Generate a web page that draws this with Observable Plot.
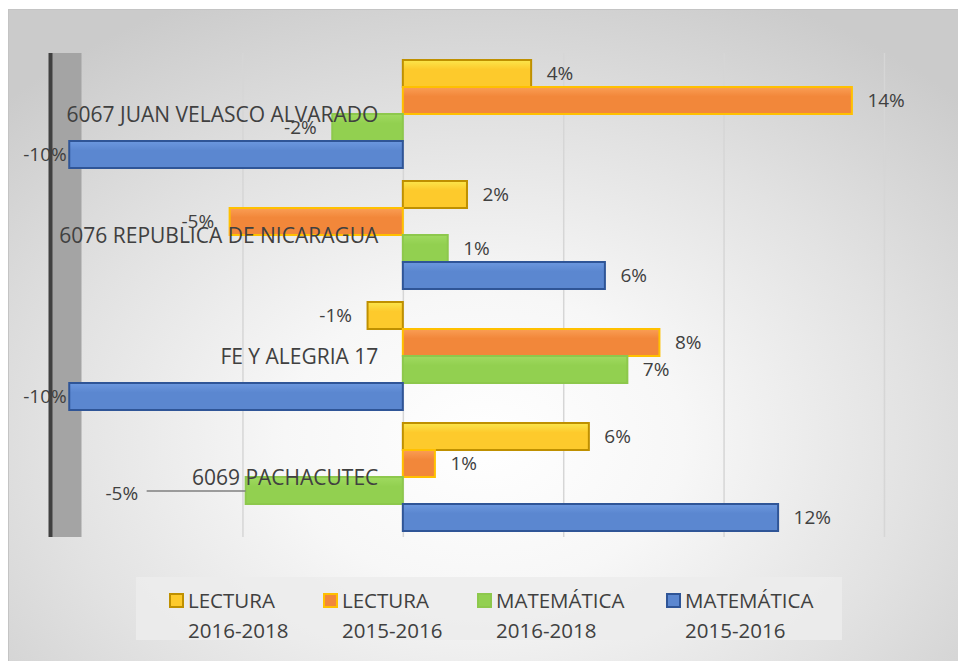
<!DOCTYPE html>
<html>
<head>
<meta charset="utf-8">
<script src="https://cdn.jsdelivr.net/npm/d3@7"></script>
<script src="https://cdn.jsdelivr.net/npm/@observablehq/plot@0.6"></script>
<style>
  body { margin: 0; background: #ffffff; font-family: "Open Sans", sans-serif; }
  #wrap { position: relative; width: 958px; height: 661px; overflow: hidden; }
  #panel { position: absolute; left: 8px; top: 9px; width: 950px; height: 652px;
    background: radial-gradient(ellipse 70% 75% at 50% 66%, #ffffff 0%, #f7f7f7 30%, #e2e2e2 65%, #cbcbcb 100%);
    border-top: 1px solid #c4c4c4; border-left: 1px solid #c4c4c4; }
  #chart { position: absolute; left: 0; top: 0; }
  #legend { position: absolute; left: 136px; top: 577px; width: 706px; height: 63px; background: rgba(236,236,236,0.85); }
  .item { position: absolute; top: 8px; font-size: 20.5px; color: #404040; line-height: 30px; white-space: nowrap; }
  .sw { position: absolute; width: 11px; height: 11px; border: 2px solid; left: -19px; top: 8px; }
</style>
</head>
<body>
<div id="wrap">
  <div id="panel"></div>
  <div id="chart"></div>
  <div id="legend"></div>
</div>
<script>
// ---- data ----
const schools = ["6067 JUAN VELASCO ALVARADO", "6076 REPUBLICA DE NICARAGUA", "FE Y ALEGRIA 17", "6069 PACHACUTEC"];
const series = ["LECTURA 2016-2018", "LECTURA 2015-2016", "MATEMÁTICA 2016-2018", "MATEMÁTICA 2015-2016"];
const legendLine1 = ["LECTURA", "LECTURA", "MATEMÁTICA", "MATEMÁTICA"];
const legendLine2 = ["2016-2018", "2015-2016", "2016-2018", "2015-2016"];
const lectura1618 = [4.0, 2.0, -1.1, 5.8];
const lectura1516 = [14.0, -5.4, 8.0, 1.0];
const mate1618 = [-2.2, 1.4, 7.0, -4.9];
const mate1516 = [-10.4, 6.3, -10.4, 11.7];
const gridTicks = [-5, 0, 5, 10, 15];
const fills = ["#FDCA2C", "#F2873A", "#92D050", "#5B87D0"];
const lights = ["#FBE64C", "#FA9E55", "#A0DA60", "#6C98DF"];
const strokes = ["#BF9000", "#FFC000", "#8DC84C", "#2F5597"];
const movedLabel = {school: "6069 PACHACUTEC", series: "MATEMÁTICA 2016-2018"};

const valuesBySeries = [lectura1618, lectura1516, mate1618, mate1516];
const rows = [];
schools.forEach((s, i) => series.forEach((k, j) => rows.push({school: s, series: k, value: valuesBySeries[j][i]})));
const fmt = d => Math.round(d.value) + "%";
const isMoved = d => d.school === movedLabel.school && d.series === movedLabel.series;

const chart = Plot.plot({
  width: 958,
  height: 570,
  marginLeft: 50,
  marginRight: 58,
  marginTop: 53,
  marginBottom: 33,
  x: {domain: [-11, 15.5], axis: null},
  y: {domain: series, axis: null, paddingInner: 0, paddingOuter: 0.24},
  fy: {domain: schools, axis: null, padding: 0},
  style: {background: "transparent", fontFamily: "Open Sans", overflow: "visible"},
  marks: [
    Plot.ruleX(gridTicks, {stroke: "#d6d6d6", strokeWidth: 1.5}),
    Plot.ruleX([-11], {stroke: "#a4a4a4", strokeWidth: 30, dx: 16}),
    Plot.ruleX([-11], {stroke: "#404040", strokeWidth: 4}),
    ...series.map((k, j) => Plot.barX(rows.filter(d => d.series === k), {
      x: "value", y: "series", fy: "school",
      fill: `url(#grad${j})`, stroke: strokes[j], strokeWidth: 2
    })),
    Plot.text(schools, {fy: d => d, x: 0, text: d => d, textAnchor: "end", dx: -25, dy: 1,
      fontSize: 21, fill: "#404040"}),
    Plot.text(rows.filter(d => d.value >= 0), {x: "value", y: "series", fy: "school", text: fmt,
      textAnchor: "start", dx: 15, fontSize: 19, fill: "#404040"}),
    Plot.text(rows.filter(d => d.value < 0 && d.value > -9 && !isMoved(d)), {x: "value", y: "series", fy: "school", text: fmt,
      textAnchor: "end", dx: -16, fontSize: 19, fill: "#404040"}),
    Plot.text(rows.filter(d => d.value <= -9), {x: "value", y: "series", fy: "school", text: fmt,
      textAnchor: "end", dx: -3, fontSize: 19, fill: "#404040"}),
    Plot.ruleY(rows.filter(isMoved), {x1: "value", x2: "value", y: "series", fy: "school",
      insetLeft: -99, stroke: "#7f7f7f", strokeWidth: 1.5}),
    Plot.text(rows.filter(isMoved), {x: "value", y: "series", fy: "school", text: fmt,
      textAnchor: "end", dx: -108, dy: 3, fontSize: 19, fill: "#404040"})
  ]
});

// bar shading gradients (lighter top edge like the 3D bars)
const defs = d3.select(chart).insert("defs", ":first-child");
fills.forEach((c, j) => {
  const g = defs.append("linearGradient").attr("id", `grad${j}`).attr("x1", 0).attr("y1", 0).attr("x2", 0).attr("y2", 1);
  g.append("stop").attr("offset", "0%").attr("stop-color", lights[j]);
  g.append("stop").attr("offset", "35%").attr("stop-color", c);
  g.append("stop").attr("offset", "100%").attr("stop-color", c);
});
document.getElementById("chart").appendChild(chart);

// legend
const lg = document.getElementById("legend");
const textLeft = [52, 206, 360, 549];
series.forEach((k, j) => {
  const it = document.createElement("div");
  it.className = "item";
  it.style.left = textLeft[j] + "px";
  it.innerHTML = `<span class="sw" style="background:${fills[j]};border-color:${strokes[j]}"></span>${legendLine1[j]}<br>${legendLine2[j]}`;
  lg.appendChild(it);
});
</script>
</body>
</html>
